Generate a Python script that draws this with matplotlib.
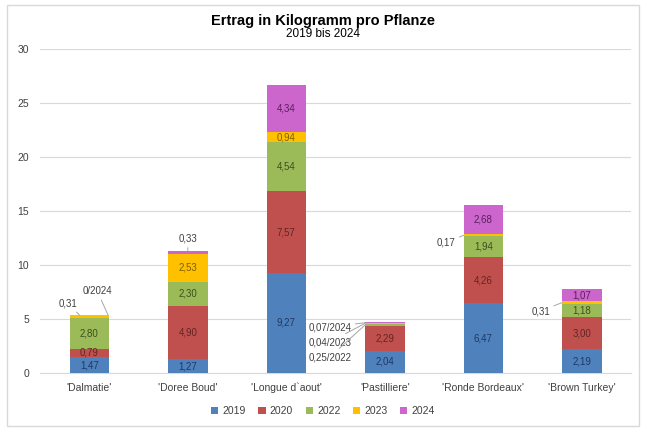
import matplotlib
matplotlib.use("Agg")
import matplotlib.pyplot as plt
import numpy as np
from matplotlib.patches import Rectangle

plt.rcParams["font.family"] = ["Liberation Sans", "DejaVu Sans"]

# data
sorten = ["'Dalmatie'", "'Doree Boud'", "'Longue d`aout'", "'Pastilliere'",
          "'Ronde Bordeaux'", "'Brown Turkey'"]
jahre = ["2019", "2020", "2022", "2023", "2024"]
ertrag_2019 = [1.47, 1.27, 9.27, 2.04, 6.47, 2.19]
ertrag_2020 = [0.79, 4.90, 7.57, 2.29, 4.26, 3.00]
ertrag_2022 = [2.80, 2.30, 4.54, 0.25, 1.94, 1.18]
ertrag_2023 = [0.31, 2.53, 0.94, 0.04, 0.17, 0.31]
ertrag_2024 = [0.00, 0.33, 4.34, 0.07, 2.68, 1.07]

farben = ["#4F81BD", "#C0504D", "#9BBB59", "#FFC000", "#CC66CC"]
textfarben = ["#1F3864", "#632523", "#3D4F1E", "#7F6000", "#5C1F5C"]

serien = [ertrag_2019, ertrag_2020, ertrag_2022, ertrag_2023, ertrag_2024]

fig = plt.figure(figsize=(6.46, 4.29), dpi=100)
ax = fig.add_axes([0.062, 0.1305, 0.915, 0.7553])

# outer frame
fig.patches.append(Rectangle((7 / 646, 3 / 429), 632 / 646, 421 / 429,
                             transform=fig.transFigure, fill=False,
                             edgecolor="#D9D9D9", linewidth=1.0))

x = np.arange(len(sorten))
breite = 0.4
unten = np.zeros(len(sorten))
bars = []
for werte, farbe, jahr in zip(serien, farben, jahre):
    b = ax.bar(x, werte, breite, bottom=unten, color=farbe, label=jahr, zorder=3)
    bars.append(list(zip(unten.copy(), werte)))
    unten += np.array(werte)

def fmt(v):
    return f"{v:.2f}".replace(".", ",")

# labels inside bars (skip small segments)
for si, (werte, tf) in enumerate(zip(serien, textfarben)):
    for i, v in enumerate(werte):
        if v < 0.5:
            continue
        b0 = bars[si][i][0]
        ax.text(x[i], b0 + v / 2, fmt(v), ha="center", va="center",
                fontsize=7, color=tf, zorder=4)

lw = dict(arrowstyle="-", color="#A6A6A6", lw=0.7, shrinkA=1, shrinkB=0)

# outside labels with leader lines
aussen = [
    ("0,31", (-0.22, 6.45), (-0.1, 5.37)),
    ("0/2024", (0.08, 7.6), (0.19, 5.37)),
    ("0,33", (1.0, 12.45), (1.0, 11.33)),
    ("0,07/2024", (2.44, 4.26), (2.8, 4.66)),
    ("0,04/2023", (2.44, 2.87), (2.8, 4.60)),
    ("0,25/2022", (2.44, 1.48), (2.8, 4.45)),
    ("0,17", (3.62, 12.1), (3.8, 12.75)),
    ("0,31", (4.58, 5.74), (4.8, 6.52)),
]
for txt, pos, ziel in aussen:
    ax.annotate(txt, xy=ziel, xytext=pos, fontsize=7, color="#404040",
                ha="center", va="center", arrowprops=lw, zorder=5)

ax.set_ylim(0, 30)
ax.set_xlim(-0.5, len(sorten) - 0.5)
ax.set_yticks(range(0, 31, 5))
ax.set_xticks(x)
ax.set_xticklabels(sorten)
ax.tick_params(axis="both", length=0, labelsize=7.5, colors="#404040")
ax.tick_params(axis="x", pad=7)
ax.tick_params(axis="y", pad=8)
ax.grid(axis="y", color="#D9D9D9", linewidth=0.8, zorder=0)
for s in ["top", "right", "left"]:
    ax.spines[s].set_visible(False)
ax.spines["bottom"].set_color("#D9D9D9")

fig.text(0.5, 0.951, "Ertrag in Kilogramm pro Pflanze", ha="center", va="center",
         fontsize=10.5, fontweight="bold", color="#000000")
fig.text(0.5, 0.921, "2019 bis 2024", ha="center", va="center",
         fontsize=8.5, color="#000000")

fig.legend(loc="center", bbox_to_anchor=(0.5, 0.042), ncol=5, frameon=False,
           fontsize=7.5, handlelength=0.7, handleheight=0.7, handletextpad=0.4,
           columnspacing=1.2, labelcolor="#404040")

fig.savefig("out.png", dpi=100)
